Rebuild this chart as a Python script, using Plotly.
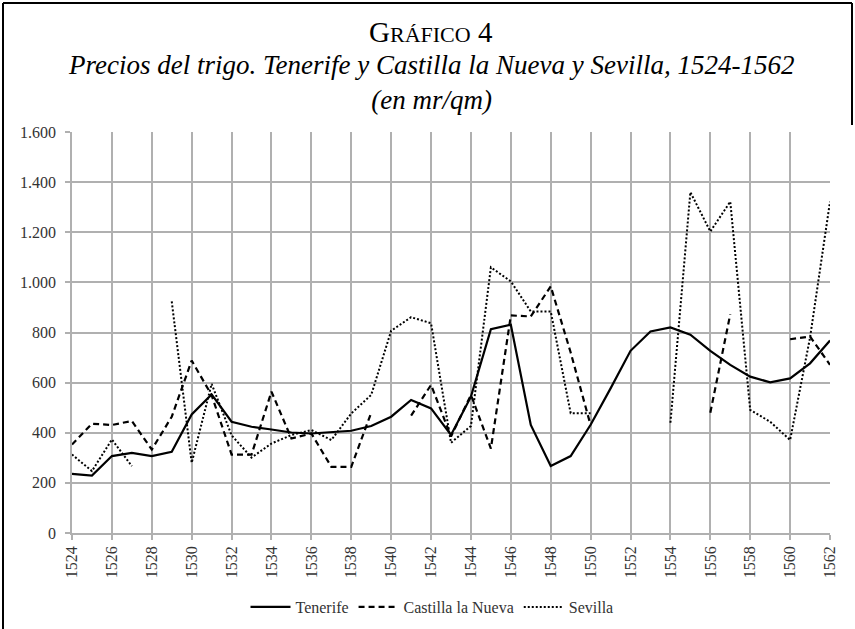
import plotly.graph_objects as go

years = list(range(1524, 1563))

tenerife = [236, 229, 307, 320, 307, 324, 473, 553, 444, 424, 413, 401, 397,
            401, 408, 427, 464, 531, 497, 391, 544, 813, 831, 431, 267, 307, 432,
            577, 727, 804, 820, 791, 727, 671, 624, 601, 617, 677, 768]

castilla = [353, 436, 431, 447, 333, 464, 688, 550, 313, 313, 564, 377, 397,
            264, 264, 480, None, 468, 591, 385, 551, 337, 868, 864, 984, 720, 430,
            None, None, None, None, None, 480, 873, None, None, 773, 784, 671]

sevilla = [313, 247, 373, 267, None, 924, 280, 595, 390, 301, 357, 391, 411,
           371, 477, 551, 807, 861, 837, 360, 427, 1060, 1004, 884, 884, 478, 478,
           None, None, None, 440, 1360, 1203, 1322, 491, 444, 371, 780, 1322]

x_ticks = list(range(1524, 1563, 2))
y_ticks = [0, 200, 400, 600, 800, 1000, 1200, 1400, 1600]
y_labels = ["0", "200", "400", "600", "800", "1.000", "1.200", "1.400", "1.600"]

SERIF = "Liberation Serif"
W, H = 855, 629
L, R, T, B = 72, 25, 132, 96


def px(xpix):
    return (xpix - L) / (W - L - R)


def py(ypix):
    return (H - B - ypix) / (H - T - B)


fig = go.Figure()
fig.add_trace(go.Scatter(x=years, y=tenerife, name="Tenerife", mode="lines",
                         line=dict(color="black", width=2.2)))
fig.add_trace(go.Scatter(x=years, y=castilla, name="Castilla la Nueva", mode="lines",
                         line=dict(color="black", width=2.2, dash="6px,4px"),
                         connectgaps=False))
fig.add_trace(go.Scatter(x=years, y=sevilla, name="Sevilla", mode="lines",
                         line=dict(color="black", width=2, dash="2px,2px"),
                         connectgaps=False))

grid = "#b0b0b0"
fig.update_xaxes(range=[1524, 1562], tickvals=x_ticks, ticktext=[str(v) for v in x_ticks],
                 tickangle=-90, showgrid=True, gridcolor=grid, gridwidth=1.6,
                 showline=True, linecolor=grid, linewidth=1.6, mirror=False,
                 ticks="outside", ticklen=5, tickcolor=grid, tickwidth=1.6,
                 tickfont=dict(family=SERIF, size=16, color="#333333"), zeroline=False)
fig.update_yaxes(range=[0, 1600], tickvals=y_ticks, ticktext=y_labels,
                 showgrid=True, gridcolor=grid, gridwidth=1.6,
                 showline=True, linecolor=grid, linewidth=1.6,
                 ticks="outside", ticklen=5, tickcolor=grid, tickwidth=1.6,
                 ticklabelstandoff=6,
                 tickfont=dict(family=SERIF, size=16, color="#333333"), zeroline=False)

annotations = [
    dict(text='G<span style="font-size:22px">RÁFICO</span> 4', x=px(431), y=py(32),
         xref="paper", yref="paper", showarrow=False, xanchor="center", yanchor="middle",
         font=dict(family=SERIF, size=29, color="black")),
    dict(text="<i>Precios del trigo. Tenerife y Castilla la Nueva y Sevilla, 1524-1562</i>"
              "<br><i>(en mr/qm)</i>",
         x=px(431), y=py(82), xref="paper", yref="paper", showarrow=False,
         xanchor="center", yanchor="middle", align="center",
         font=dict(family=SERIF, size=27, color="black")),
]

shapes = [
    dict(type="line", xref="paper", yref="paper", x0=px(3), x1=px(852), y0=py(3), y1=py(3),
         line=dict(color="black", width=2)),
    dict(type="line", xref="paper", yref="paper", x0=px(3), x1=px(3), y0=py(3), y1=py(640),
         line=dict(color="black", width=2)),
    dict(type="line", xref="paper", yref="paper", x0=px(852), x1=px(852), y0=py(3), y1=py(125),
         line=dict(color="black", width=2)),
]

fig.update_layout(
    width=W, height=H, margin=dict(l=L, r=R, t=T, b=B, autoexpand=False),
    paper_bgcolor="white", plot_bgcolor="white",
    annotations=annotations, shapes=shapes,
    legend=dict(orientation="h", x=px(432), y=py(607), xanchor="center", yanchor="middle",
                font=dict(family=SERIF, size=16, color="#333333"), bgcolor="rgba(0,0,0,0)",
                itemwidth=40, tracegroupgap=0),
    showlegend=True,
)

fig.write_html("out.html", config={"displayModeBar": False},
               post_script="document.body.style.margin='0px';document.body.style.overflow='hidden';")
